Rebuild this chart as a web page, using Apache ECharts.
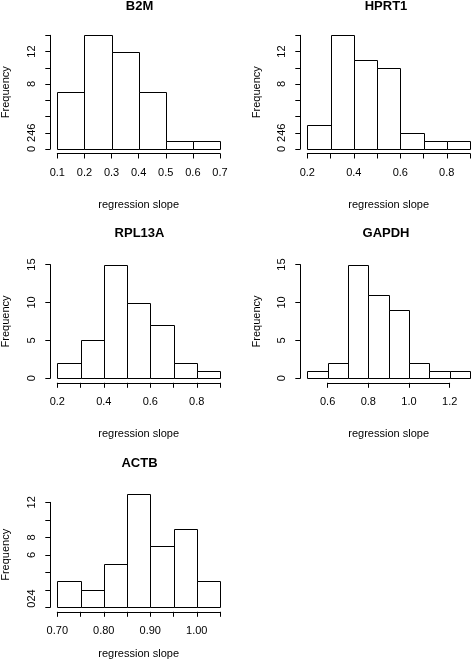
<!DOCTYPE html>
<html>
<head>
<meta charset="utf-8">
<script src="https://cdn.jsdelivr.net/npm/echarts@6/dist/echarts.min.js"></script>
<style>
html,body{margin:0;padding:0;background:#fff;}
#chart{width:471px;height:661px;}
</style>
</head>
<body>
<div id="chart"></div>
<script>
// ---------- data ----------
const titles = ['B2M', 'HPRT1', 'RPL13A', 'GAPDH', 'ACTB'];

const b2mBreaks = [0.1, 0.2, 0.3, 0.4, 0.5, 0.6, 0.7];
const b2mCounts = [7, 14, 12, 7, 1, 1];
const b2mXTicks = [0.1, 0.2, 0.3, 0.4, 0.5, 0.6, 0.7];
const b2mXLabels = ['0.1', '0.2', '0.3', '0.4', '0.5', '0.6', '0.7'];
const b2mYTicks = [0, 2, 4, 6, 8, 10, 12, 14];
const b2mYLabelAt = [0, 2, 8, 12];
const b2mYLabels = ['0', '246', '8', '12'];

const hprt1Breaks = [0.2, 0.3, 0.4, 0.5, 0.6, 0.7, 0.8, 0.9];
const hprt1Counts = [3, 14, 11, 10, 2, 1, 1];
const hprt1XTicks = [0.2, 0.3, 0.4, 0.5, 0.6, 0.7, 0.8, 0.9];
const hprt1XLabels = ['0.2', '', '0.4', '', '0.6', '', '0.8', ''];
const hprt1YTicks = [0, 2, 4, 6, 8, 10, 12, 14];
const hprt1YLabelAt = [0, 2, 8, 12];
const hprt1YLabels = ['0', '246', '8', '12'];

const rpl13aBreaks = [0.2, 0.3, 0.4, 0.5, 0.6, 0.7, 0.8, 0.9];
const rpl13aCounts = [2, 5, 15, 10, 7, 2, 1];
const rpl13aXTicks = [0.2, 0.3, 0.4, 0.5, 0.6, 0.7, 0.8, 0.9];
const rpl13aXLabels = ['0.2', '', '0.4', '', '0.6', '', '0.8', ''];
const rpl13aYTicks = [0, 5, 10, 15];
const rpl13aYLabelAt = [0, 5, 10, 15];
const rpl13aYLabels = ['0', '5', '10', '15'];

const gapdhBreaks = [0.5, 0.6, 0.7, 0.8, 0.9, 1.0, 1.1, 1.2, 1.3];
const gapdhCounts = [1, 2, 15, 11, 9, 2, 1, 1];
const gapdhXTicks = [0.6, 0.8, 1.0, 1.2];
const gapdhXLabels = ['0.6', '0.8', '1.0', '1.2'];
const gapdhYTicks = [0, 5, 10, 15];
const gapdhYLabelAt = [0, 5, 10, 15];
const gapdhYLabels = ['0', '5', '10', '15'];

const actbBreaks = [0.70, 0.75, 0.80, 0.85, 0.90, 0.95, 1.00, 1.05];
const actbCounts = [3, 2, 5, 13, 7, 9, 3];
const actbXTicks = [0.70, 0.75, 0.80, 0.85, 0.90, 0.95, 1.00, 1.05];
const actbXLabels = ['0.70', '', '0.80', '', '0.90', '', '1.00', ''];
const actbYTicks = [0, 2, 4, 6, 8, 10, 12];
const actbYLabelAt = [1, 6, 8, 12];
const actbYLabels = ['024', '6', '8', '12'];

// ---------- layout (pixels) ----------
const FONT = '"Liberation Sans", Arial, Helvetica, sans-serif';
const colLeft = [57.3, 307.3];
const plotW = 162.7;
const rowZero = [149, 378.3, 607.3];
const plotH = 113.7;
const nameGapRow = [46, 46, 37];
const titleTopRow = [0, 226.5, 457];
const titleXCol = [139.5, 386];
const yNameGapCol = [38.5, 37.5];

const panels = [
  {t: titles[0], br: b2mBreaks, c: b2mCounts, xt: b2mXTicks, xl: b2mXLabels, yt: b2mYTicks, ya: b2mYLabelAt, yl: b2mYLabels, col: 0, row: 0},
  {t: titles[1], br: hprt1Breaks, c: hprt1Counts, xt: hprt1XTicks, xl: hprt1XLabels, yt: hprt1YTicks, ya: hprt1YLabelAt, yl: hprt1YLabels, col: 1, row: 0},
  {t: titles[2], br: rpl13aBreaks, c: rpl13aCounts, xt: rpl13aXTicks, xl: rpl13aXLabels, yt: rpl13aYTicks, ya: rpl13aYLabelAt, yl: rpl13aYLabels, col: 0, row: 1},
  {t: titles[3], br: gapdhBreaks, c: gapdhCounts, xt: gapdhXTicks, xl: gapdhXLabels, yt: gapdhYTicks, ya: gapdhYLabelAt, yl: gapdhYLabels, col: 1, row: 1},
  {t: titles[4], br: actbBreaks, c: actbCounts, xt: actbXTicks, xl: actbXLabels, yt: actbYTicks, ya: actbYLabelAt, yl: actbYLabels, col: 0, row: 2}
];

function lookup(arrV, arrL, v) {
  for (let i = 0; i < arrV.length; i++) if (Math.abs(arrV[i] - v) < 1e-6) return arrL[i];
  return '';
}
function gcdStep(arr) {
  let s = arr[0] === 0 ? (arr[1] - arr[0]) : arr[0];
  const g = (a, b) => b === 0 ? a : g(b, a % b);
  let r = 0;
  for (const v of arr) r = g(r, v);
  return r || s;
}

const option = {
  backgroundColor: '#fff',
  animation: false,
  title: [], grid: [], xAxis: [], yAxis: [], series: []
};

panels.forEach((p, i) => {
  const bMin = p.br[0], bMax = p.br[p.br.length - 1];
  const xMin = p.xt[0], xMax = p.xt[p.xt.length - 1];
  const pxPerX = plotW / (bMax - bMin);
  const gLeft = colLeft[p.col] + (xMin - bMin) * pxPerX;
  const gWidth = (xMax - xMin) * pxPerX;
  const cMax = Math.max.apply(null, p.c);
  const pxPerY = plotH / cMax;
  const yMax = p.yt[p.yt.length - 1];
  const gHeight = yMax * pxPerY;
  const gTop = rowZero[p.row] - gHeight;
  const yAxisX = colLeft[p.col] - 7;
  const yOff = gLeft - yAxisX;
  const xStep = +(p.xt[1] - p.xt[0]).toFixed(6);
  const yStep = p.yt[1] - p.yt[0];
  const labStep = gcdStep(p.ya.concat(p.yt));

  option.title.push({
    text: p.t, left: titleXCol[p.col], top: titleTopRow[p.row], textAlign: 'center', padding: 0,
    textStyle: {fontFamily: FONT, fontSize: 13, fontWeight: 'bold', color: '#000'}
  });
  option.grid.push({left: gLeft, top: gTop, width: gWidth, height: gHeight, containLabel: false, outerBoundsMode: 'none'});
  option.xAxis.push({
    gridIndex: i, type: 'value', min: xMin, max: xMax, interval: xStep, position: 'bottom', offset: 4.5,
    axisLine: {show: true, onZero: false, lineStyle: {color: '#000', width: 1}},
    axisTick: {show: true, length: 5, lineStyle: {color: '#000', width: 1}},
    axisLabel: {show: true, margin: 14, color: '#000', fontFamily: FONT, fontSize: 11,
      showMinLabel: true, showMaxLabel: true,
      formatter: v => lookup(p.xt, p.xl, v)},
    splitLine: {show: false},
    name: 'regression slope', nameLocation: 'middle', nameGap: nameGapRow[p.row],
    nameTextStyle: {fontFamily: FONT, fontSize: 11, color: '#000'}
  });
  option.yAxis.push({
    gridIndex: i, type: 'value', min: 0, max: yMax, interval: yStep, position: 'left', offset: yOff,
    axisLine: {show: true, onZero: false, lineStyle: {color: '#000', width: 1}},
    axisTick: {show: true, length: 5, lineStyle: {color: '#000', width: 1}},
    axisLabel: {show: false},
    splitLine: {show: false},
    name: 'Frequency', nameLocation: 'middle', nameGap: yNameGapCol[p.col],
    nameTextStyle: {fontFamily: FONT, fontSize: 11, color: '#000'}
  });
  const labelAxisIndex = option.yAxis.length;
  option.yAxis.push({
    gridIndex: i, type: 'value', min: 0, max: yMax, interval: labStep, position: 'left', offset: yOff,
    axisLine: {show: false, onZero: false},
    axisTick: {show: false},
    axisLabel: {show: true, rotate: 90, margin: 12.5, color: '#000', fontFamily: FONT, fontSize: 11,
      showMinLabel: true, showMaxLabel: true,
      formatter: v => lookup(p.ya, p.yl, v)},
    splitLine: {show: false}
  });
  option.series.push({
    type: 'custom', xAxisIndex: i, yAxisIndex: labelAxisIndex - 1, clip: false,
    encode: {x: [0, 1], y: 2},
    data: p.c.map((c, k) => [p.br[k], p.br[k + 1], c]),
    renderItem: (params, api) => {
      const a = api.coord([api.value(0), 0]);
      const b = api.coord([api.value(1), api.value(2)]);
      const x0 = Math.round(a[0]) + 0.5, x1 = Math.round(b[0]) + 0.5;
      const y0 = Math.round(a[1]) + 0.5, y1 = Math.round(b[1]) + 0.5;
      return {type: 'rect', shape: {x: x0, y: y1, width: x1 - x0, height: y0 - y1},
        style: {fill: '#fff', stroke: '#000', lineWidth: 1}};
    }
  });
});

const chart = echarts.init(document.getElementById('chart'), null, {renderer: 'canvas'});
chart.setOption(option);
</script>
</body>
</html>
